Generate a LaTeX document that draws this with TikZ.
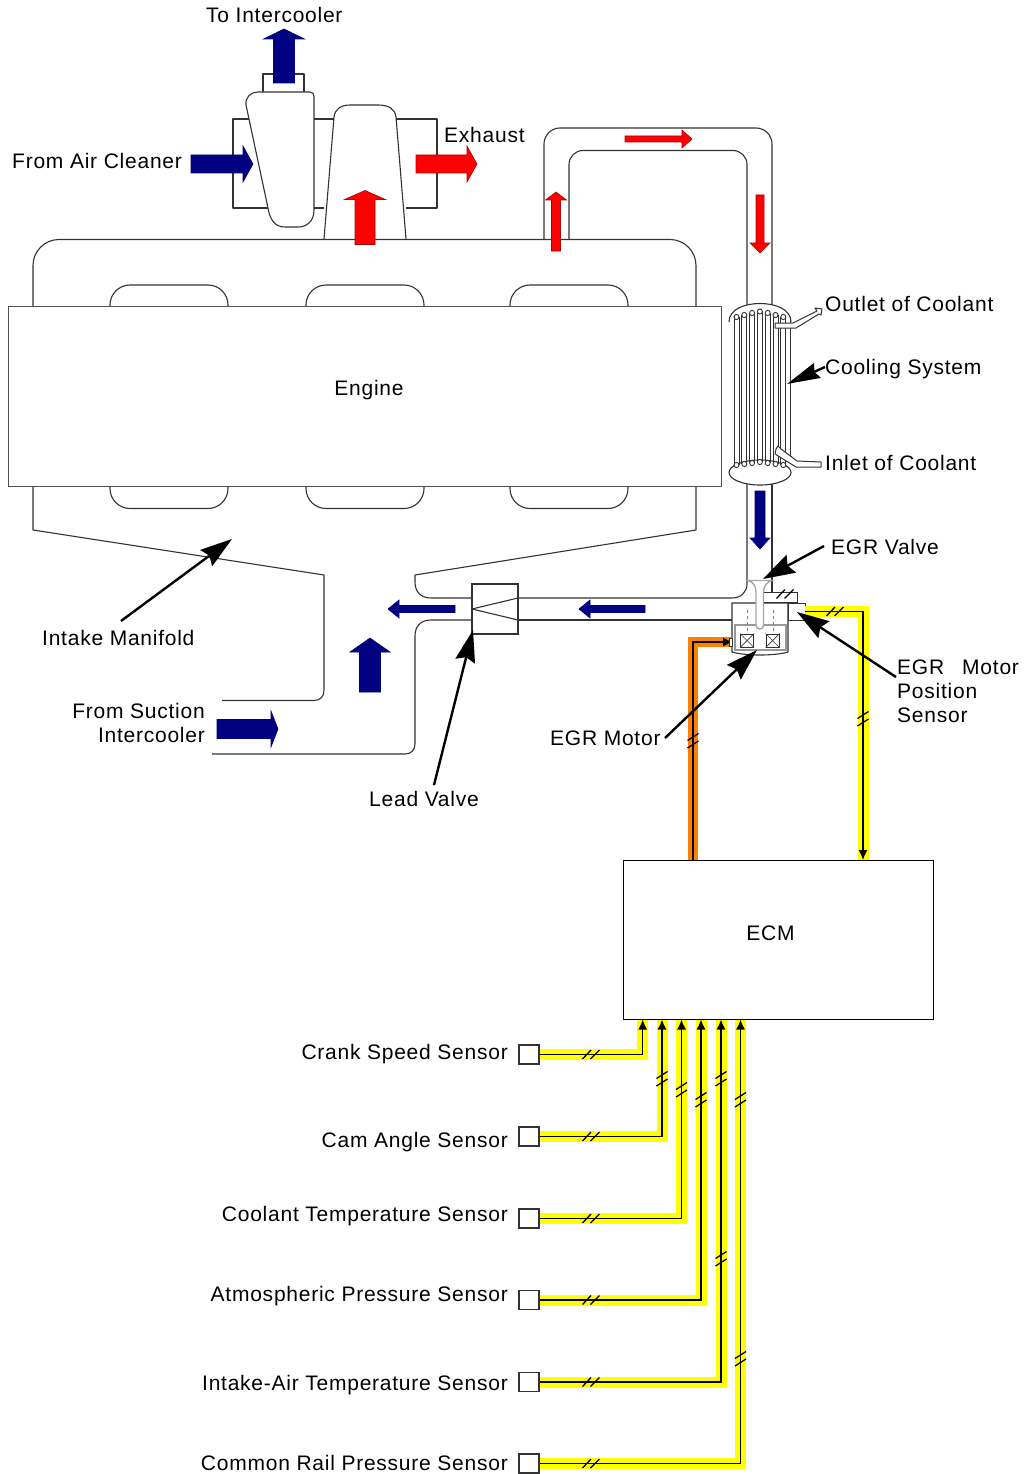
\documentclass[tikz,border=0pt]{standalone}
\usepackage{fontspec}
\setmainfont[LetterSpace=3.6]{Liberation Sans}
\usetikzlibrary{arrows.meta,calc}
\definecolor{navyb}{HTML}{000080}
\definecolor{redb}{HTML}{FF0000}
\definecolor{harny}{HTML}{FFFF00}
\definecolor{harno}{HTML}{FF8000}
\definecolor{linec}{HTML}{333333}
\tikzset{
 part/.style={draw=linec,line width=1.1pt,line join=round},
 wpart/.style={part,fill=white},
 lbl/.style={inner sep=0pt,font=\fontsize{21}{24}\selectfont},
 lblw/.style={lbl,anchor=base west},
 lble/.style={lbl,anchor=base east},
 sensorbox/.style={draw=linec,line width=1.3pt,fill=white,minimum width=20pt,minimum height=19pt,inner sep=0pt},
 leader/.style={line width=2.4pt,-{Stealth[length=32pt,width=20pt,inset=4pt]}},
 harnessy/.style={draw=harny,line width=11pt,line join=miter},
 harnesso/.style={draw=harno,line width=10.5pt,line join=miter},
 signal/.style={draw=black,line width=1.4pt,-{Latex[length=10pt,width=9pt]}},
 tickm/.style={draw=black,line width=1.3pt},
}
\newcommand\fat[8]{\begin{scope}[shift={(#2)},rotate=#3]
 \draw[fill=#1,draw=#8,line width=.6pt,line join=miter] (0,0)--(-#6,#5)--(-#6,#4)--(-#7,#4)--(-#7,-#4)--(-#6,-#4)--(-#6,-#5)--cycle;
 \end{scope}}
\newcommand\tickh[1]{\begin{scope}[shift={(#1)}]
 \draw[tickm] (-8.5,4.5)--(0,-4.5) (-0.5,4.5)--(8.5,-4.5);\end{scope}}
\newcommand\tickv[1]{\begin{scope}[shift={(#1)}]
 \draw[tickm] (-5.5,-0.5)--(5.5,-7.5) (-5.5,7)--(5.5,0);\end{scope}}
\begin{document}
\begin{tikzpicture}[x=1pt,y=-1pt]
\useasboundingbox (0,0) rectangle (1028,1474);
\fill[white] (0,0) rectangle (1028,1474);

% ---- turbo housing
\draw[part] (268,208)--(233,208)--(233,119)--(250,119) (314,119)--(334,119) (396,119)--(437,119)--(437,208)--(406,208) (314,208)--(324,208);
% compressor
\draw[wpart] (263,92)--(263,74)--(304,74)--(304,92);
\draw[wpart] (246,105) .. controls (245,97) and (251,92) .. (258,92) -- (310,92) .. controls (313,92) and (314,94) .. (314,97) -- (314,210) .. controls (314,222) and (306,227) .. (298,227) -- (285,227) .. controls (275,227) and (270,220) .. (268,208) -- cycle;
% turbine
\draw[part] (324,239)--(334,117) .. controls (335,109) and (341,105) .. (350,105) -- (378,105) .. controls (389,105) and (395,109) .. (396,117) -- (406,239);

% ---- head and manifold
\foreach \a in {110,306,510}{
 \draw[part,rounded corners=20pt] (\a,306)--(\a,285)--(\a+118,285)--(\a+118,306);
 \draw[part,rounded corners=20pt] (\a,486)--(\a,508.5)--(\a+118,508.5)--(\a+118,486);
}
\draw[part,rounded corners=26pt] (33,306)--(33,239.5)--(696,239.5)--(696,306);
\draw[part] (33,486)--(33,530)--(324,575)--(324,690) .. controls (324,697) and (320,700.5) .. (314,700.5) -- (222,700.5);
\draw[part] (696,486)--(696,530)--(415,575) -- (415,582) .. controls (415,592) and (421,598) .. (431,598) -- (472,598);
\draw[part] (472,620)--(431,620) .. controls (421,620) and (415,626) .. (415,636) -- (415,744) .. controls (415,750) and (411,754) .. (405,754) -- (212,754);
\node[draw=linec!85,line width=.8pt,fill=white,minimum width=713pt,minimum height=180pt,inner sep=0pt,anchor=north west,lbl] (engine) at (8,306) {};
\node[lbl] (engtxt) at (369,390) {Engine};

% ---- EGR piping
\draw[part,rounded corners=16pt] (544,239)--(544,128)--(772,128)--(772,310);
\draw[part,rounded corners=14pt] (569,239)--(569,150.5)--(747,150.5)--(747,310);
\draw[part] (772,480)--(772,603);
\draw[part] (747,480)--(747,584) .. controls (747,592) and (741,598) .. (732,598) -- (518,598);
\draw[part] (518,620)--(732,620);

% ---- lead valve
\node[draw=linec,line width=1.1pt,fill=white,minimum width=46pt,minimum height=50pt,inner sep=0pt] (leadv) at (495,609) {};
\draw[part] (518,598)--(472,609)--(518,620);

% ---- cooler
\begin{scope}
 \fill[white] (729,320) rectangle (791,473);
 \draw[wpart] (729,322) .. controls (729,309) and (745,303.5) .. (760,303.5) .. controls (775,303.5) and (791,309) .. (791,322);
 \draw[wpart] (760,472.5) ellipse [x radius=31,y radius=12.5];
 \foreach \x/\t/\b in {734/317/465,741.8/315/464,749.6/313/463,757.4/311.5/462,765.2/313/463,773/315/464,780.8/317/465}{
  \draw[draw=linec,line width=.9pt] (\x,\t)--(\x,\b) (\x+5,\t)--(\x+5,\b);
  \draw[draw=linec,line width=.9pt,fill=white] (\x+2.5,\t) ellipse [x radius=2.5,y radius=2.6];
  \draw[draw=linec,line width=.9pt,fill=white] (\x+2.5,\b) ellipse [x radius=2.5,y radius=2.6];
 }
 \draw[part,line width=1pt] (790.5,320)--(790.5,462);
\end{scope}
\draw[wpart,line width=1pt] (775,323)--(793,323)--(817,311)--(815,308)--(822,309)--(821,315)--(819,314)--(796,328)--(775,328)--cycle;
\draw[wpart,line width=1pt] (776,449)--(775,454)--(796,467)--(821,467)--(821,462)--(797,461)--(781,449)--(778,446)--cycle;

% ---- EGR valve body
\node[draw=linec,line width=1.1pt,fill=white,minimum width=35pt,minimum height=10pt,inner sep=0pt,anchor=south west] (topbox) at (762,603) {};
\draw[wpart] (732,603)--(788,603)--(788,652) .. controls (775,656) and (745,656) .. (732,652)--cycle;
\node[draw=linec,line width=1.1pt,fill=white,minimum width=17pt,minimum height=17pt,inner sep=0pt,anchor=north west] (possensor) at (788,603) {};
\draw[draw=gray!80,line width=1.2pt] (735,625) rectangle (786,650);
\draw[draw=gray,line width=.8pt,dashed] (747,610)--(747,634) (773,610)--(773,634);
\node[draw=linec,line width=1pt,fill=white,minimum width=13pt,minimum height=13pt,inner sep=0pt] (coil1) at (747,640.5) {};
\node[draw=linec,line width=1pt,fill=white,minimum width=13pt,minimum height=13pt,inner sep=0pt] (coil2) at (772.5,640.5) {};
\draw[line width=.7pt,draw=linec] (coil1.north west)--(coil1.south east) (coil1.north east)--(coil1.south west) (coil2.north west)--(coil2.south east) (coil2.north east)--(coil2.south west);
\draw[draw=gray!70,line width=1.4pt,fill=white] (748,580.5)--(772,580.5) .. controls (767,582) and (763.5,586) .. (763.5,592) -- (763.5,625) .. controls (763.5,630.5) and (756,630.5) .. (756,625) -- (756,592) .. controls (756,586) and (753,582) .. (748,580.5) -- cycle;

% ---- ECM and sensors
\node[draw=black,line width=1.1pt,fill=white,minimum width=310pt,minimum height=159pt,inner sep=0pt,anchor=north west] (ecm) at (623,859.5) {};
\node[lbl] (ecmtxt) at (770.5,933) {ECM};
\node[sensorbox] (s1) at (529,1054.5) {};
\node[sensorbox] (s2) at (529,1136.5) {};
\node[sensorbox] (s3) at (529,1218.5) {};
\node[sensorbox] (s4) at (529,1300) {};
\node[sensorbox] (s5) at (529,1382) {};
\node[sensorbox] (s6) at (529,1463.5) {};
\coordinate (e1) at (642.7,1019.5);
\coordinate (e2) at (662,1019.5);
\coordinate (e3) at (681.5,1019.5);
\coordinate (e4) at (701,1019.5);
\coordinate (e5) at (721,1019.5);
\coordinate (e6) at (740.5,1019.5);
\coordinate (eo) at (693,860);
\coordinate (ey) at (863,860);
\coordinate (mtr) at (733,642);
\coordinate (pos) at (805,611.5);

% harness: yellow / orange bands
\draw[harnessy] (s1.east)-|(e1);
\draw[harnessy] (s2.east)-|(e2);
\draw[harnessy] (s3.east)-|(e3);
\draw[harnessy] (s4.east)-|(e4);
\draw[harnessy] (s5.east)-|(e5);
\draw[harnessy] (s6.east)-|(e6);
\draw[signal] (s1.east)-|(e1);
\draw[signal] (s2.east)-|(e2);
\draw[signal] (s3.east)-|(e3);
\draw[signal] (s4.east)-|(e4);
\draw[signal] (s5.east)-|(e5);
\draw[signal] (s6.east)-|(e6);
\draw[harnesso] (eo)|-(mtr);
\draw[signal] (eo)|-(mtr);
\draw[harnessy] (pos)-|(ey);
\draw[signal] (pos)-|(ey);
\node[draw=linec,line width=.7pt,fill=white,minimum width=3pt,minimum height=8pt,inner sep=0pt] (mtrport) at (731,642) {};
% ticks
\foreach \y in {1054.5,1136.5,1218.5,1300,1382,1463.5}{\tickh{591,\y}}
\tickh{835,611.5}\tickh{785,594}
\tickv{662,1079}\tickv{681.5,1090}\tickv{701,1100}\tickv{721,1079}\tickv{740.5,1100}
\tickv{721,1259}\tickv{740.5,1359}\tickv{693,741}\tickv{863,719}

% ---- flow arrows
\fat{navyb}{284,29}{90}{10.5}{20.5}{10}{54}{navyb}
\fat{navyb}{253,164}{0}{9}{18}{10}{62}{navyb}
\fat{redb}{477,164}{0}{9}{18}{10}{61}{redb!70!black}
\fat{redb}{365,190.5}{90}{10}{20.5}{9}{54}{redb!70!black}
\fat{redb}{556,192}{90}{4.5}{10.5}{8}{59}{redb!70!black}
\fat{redb}{692,139}{0}{3}{9}{10}{67}{redb!70!black}
\fat{redb}{760,253}{-90}{4}{10}{10}{58}{redb!70!black}
\fat{navyb}{760,549}{-90}{5}{10}{11}{58}{navyb}
\fat{navyb}{388,609}{180}{3.5}{9}{11}{67}{navyb}
\fat{navyb}{579,609}{180}{3.5}{9}{11}{66}{navyb}
\fat{navyb}{370,638}{90}{10.5}{20}{14}{54}{navyb}
\fat{navyb}{278,729}{0}{9.5}{18}{7}{61}{navyb}

% ---- labels
\node[lblw] (ltoic) at (206,23) {To Intercooler};
\node[lblw] (lfac) at (12,168) {From Air Cleaner};
\node[lblw] (lexh) at (444,143) {Exhaust};
\node[lblw] (lout) at (825,311) {Outlet of Coolant};
\node[lblw] (lcool) at (825,374) {Cooling System};
\node[lblw] (linl) at (825,470) {Inlet of Coolant};
\node[lblw] (levv) at (831,554) {EGR Valve};
\node[lblw] (lpos1) at (897,674) {EGR\hspace{18pt}Motor};
\node[lblw] (lpos2) at (897,698) {Position};
\node[lblw] (lpos3) at (897,722) {Sensor};
\node[lblw] (lmtr) at (550,745) {EGR Motor};
\node[lblw] (llead) at (369,806) {Lead Valve};
\node[lblw] (lim) at (42,645) {Intake Manifold};
\node[lble] (lfs1) at (205,718) {From Suction};
\node[lble] (lfs2) at (205,742) {Intercooler};
\node[lble] (l1) at (508,1059) {Crank Speed Sensor};
\node[lble] (l2) at (508,1147) {Cam Angle Sensor};
\node[lble] (l3) at (508,1221) {Coolant Temperature Sensor};
\node[lble] (l4) at (508,1301) {Atmospheric Pressure Sensor};
\node[lble] (l5) at (508,1390) {Intake-Air Temperature Sensor};
\node[lble] (l6) at (508,1470) {Common Rail Pressure Sensor};

% ---- leaders
\coordinate (aim) at (121,621); \coordinate (bim) at (232,539);
\coordinate (aev) at (824,546); \coordinate (bev) at (763,579);
\coordinate (am) at (665,738); \coordinate (bm) at (757,650);
\coordinate (ap) at (896,677); \coordinate (bp) at (797,612);
\coordinate (al) at (434,785); \coordinate (bl) at (473,630);
\coordinate (ac) at (825,367); \coordinate (bc) at (787,384);
\draw[leader] (aim)--(bim);
\draw[leader] (aev)--(bev);
\draw[leader] (am)--(bm);
\draw[leader] (ap)--(bp);
\draw[leader] (al)--(bl);
\draw[leader,-{Stealth[length=33pt,width=16pt,inset=3pt]}] (ac)--(bc);
\end{tikzpicture}
\end{document}
